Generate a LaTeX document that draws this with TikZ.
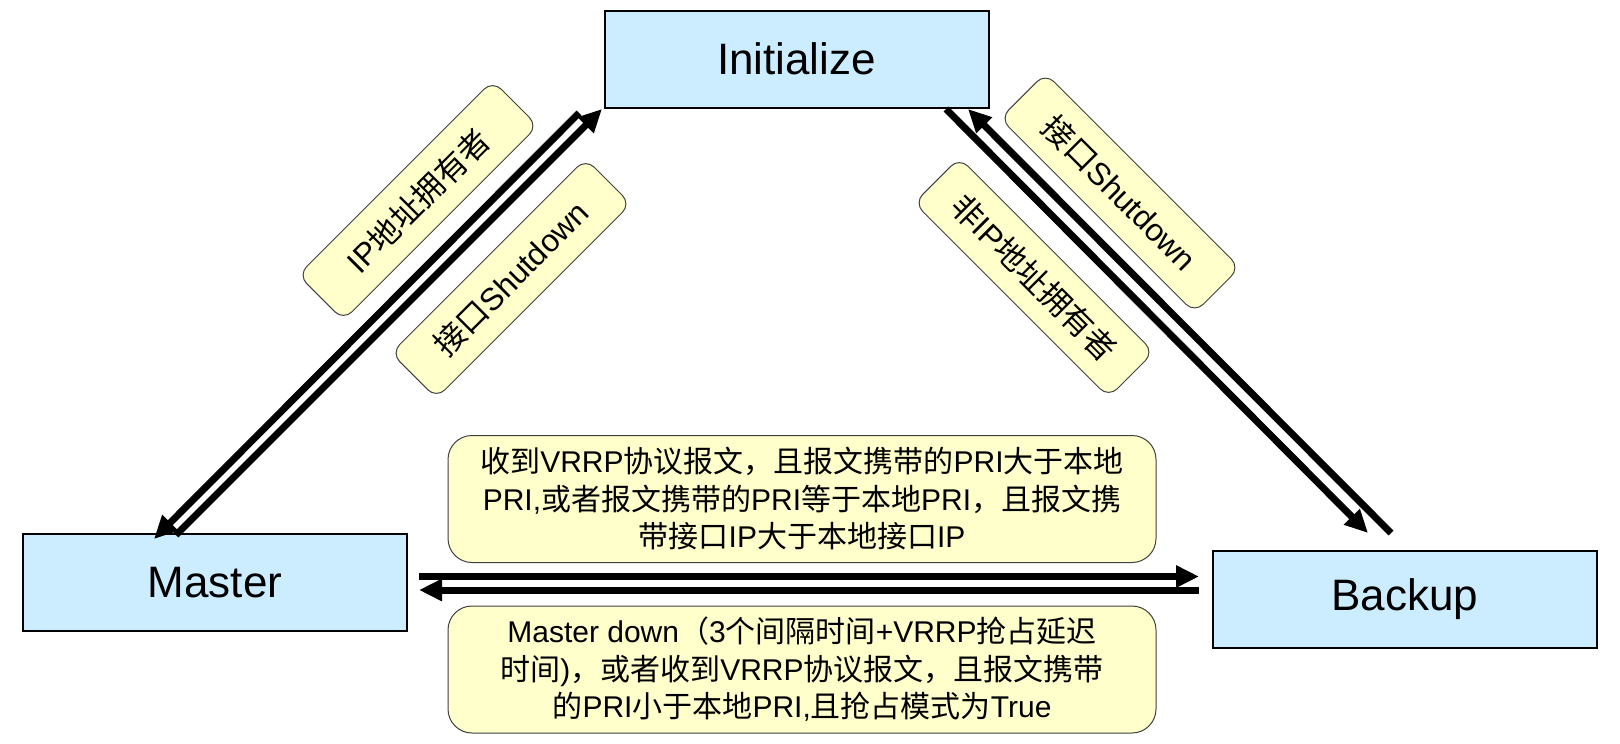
\documentclass[tikz,border=0pt]{standalone}
\usepackage{fontspec}
\setmainfont{Liberation Sans}
\newfontfamily\cjk{Noto Sans CJK SC}
\newcommand\zh[1]{{\cjk #1}}
\usetikzlibrary{arrows.meta}
\definecolor{boxblue}{RGB}{204,236,255}
\definecolor{labyellow}{RGB}{255,255,204}
\begin{document}
\begin{tikzpicture}[x=1pt,y=-1pt,
  state/.style={draw=black,line width=2pt,fill=boxblue,minimum width=384pt,minimum height=97pt,inner sep=0pt,outer sep=0pt,font=\fontsize{44}{52}\selectfont},
  note/.style={draw=black!75,line width=1pt,fill=labyellow,rounded corners=12pt,inner sep=0pt,font=\fontsize{30}{37.5}\selectfont,align=center},
  diagnote/.style={note,minimum width=275pt,minimum height=64pt,font=\fontsize{31.5}{38}\selectfont},
  flatnote/.style={note,rounded corners=24pt,minimum width=708pt,minimum height=127pt},
  conn/.style={line width=7pt,-{Triangle[length=23pt,width=21pt]}}]
\useasboundingbox (0,0) rectangle (1620,744);
\fill[white] (0,0) rectangle (1620,744);
% states
\node[state] (I) at (796.5,59) {Initialize};
\node[state] (M) at (215,582.5) {Master};
\node[state] (B) at (1405,599) {Backup};
% diagonal notes
\node[diagnote,rotate=45] (n1) at (418,200.5) {IP\zh{地址拥有者}};
\node[diagnote,rotate=45] (n2) at (511,278.5) {\zh{接口}Shutdown};
\node[diagnote,rotate=-45] (n3) at (1120,193) {\zh{接口}Shutdown};
\node[diagnote,rotate=-45] (n4) at (1034,277.5) {\zh{非}IP\zh{地址拥有者}};
% horizontal notes
\node[flatnote] (n5) at (802,499) {\zh{收到}VRRP\zh{协议报文，且报文携带的}PRI\zh{大于本地}\\PRI,\zh{或者报文携带的}PRI\zh{等于本地}PRI\zh{，且报文携}\\\zh{带接口}IP\zh{大于本地接口}IP};
\node[flatnote] (n6) at (802,669.5) {Master down\zh{（}3\zh{个间隔时间}+VRRP\zh{抢占延迟}\\\zh{时间})\zh{，或者收到}VRRP\zh{协议报文，且报文携带}\\\zh{的}PRI\zh{小于本地}PRI,\zh{且抢占模式为}True};
% connectors Master <-> Initialize
\draw[conn] ([xshift=-25.5pt,yshift=-5.5pt]I.south west) -- ([xshift=131pt,yshift=-5pt]M.north west);
\draw[conn] ([xshift=153pt,yshift=-1pt]M.north west) -- ([xshift=-2.5pt,yshift=-1.5pt]I.south west);
% connectors Initialize <-> Backup
\draw[conn] ([xshift=-42.5pt,yshift=-1.5pt]I.south east) -- ([xshift=155pt,yshift=17.5pt]B.north west);
\draw[conn] ([xshift=178pt,yshift=17.5pt]B.north west) -- ([xshift=-20.5pt,yshift=-1.5pt]I.south east);
% connectors Master <-> Backup
\draw[conn] ([xshift=12pt,yshift=6pt]M.east) -- ([xshift=-14pt,yshift=22.5pt]B.west);
\draw[conn] ([xshift=-14pt,yshift=9pt]B.west) -- ([xshift=12pt,yshift=-7.5pt]M.east);
\end{tikzpicture}
\end{document}
